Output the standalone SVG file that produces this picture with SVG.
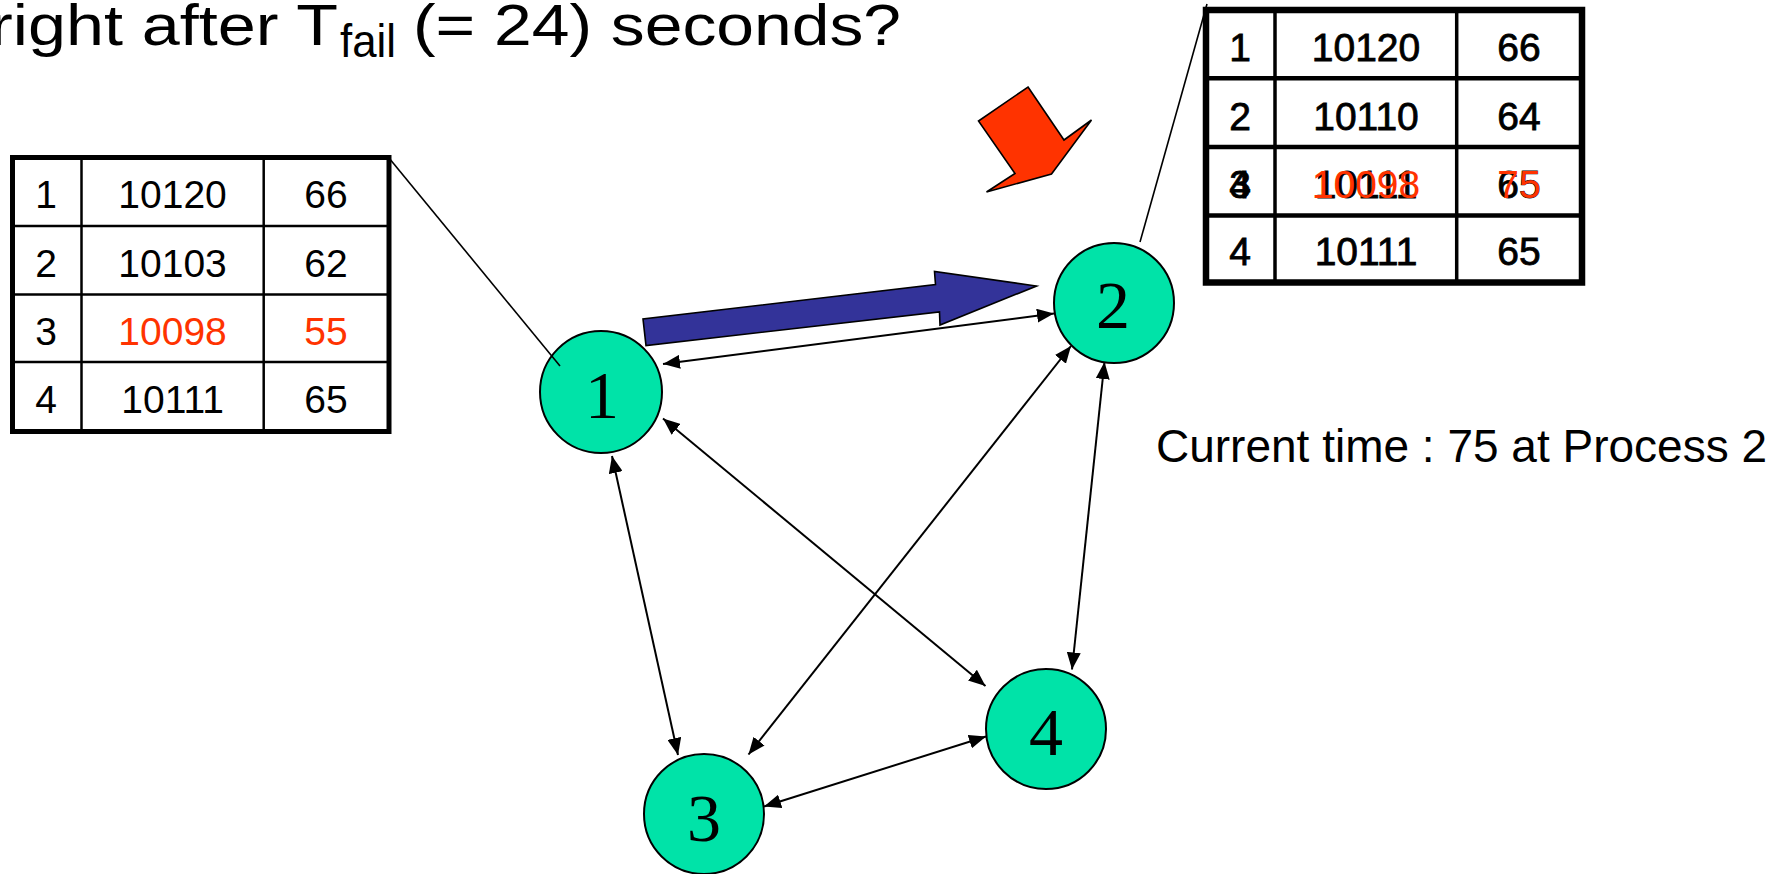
<svg xmlns="http://www.w3.org/2000/svg" width="1779" height="874" viewBox="0 0 1779 874">
<style>
  .t { font-family: "Liberation Sans", Arial, sans-serif; fill: #000; }
  .cell { font-family: "Liberation Sans", Arial, sans-serif; font-size: 39px; text-anchor: middle; fill: #000; }
  .bold { stroke: #000; stroke-width: 0.8; }
  .red { fill: #FF3300; stroke: none; }
  .node circle { fill: #00E3A8; stroke: #000; stroke-width: 2; }
  .node text { font-family: "Liberation Serif", "Times New Roman", serif; font-size: 68px; text-anchor: middle; fill: #000; }
  .edge { fill: none; stroke: #000; stroke-width: 2; marker-start: url(#ah); marker-end: url(#ah); }
  .callout { fill: none; stroke: #000; stroke-width: 1.6; }
</style>
<defs>
  <marker id="ah" viewBox="0 0 17 14" refX="17" refY="7" markerWidth="17" markerHeight="14" markerUnits="userSpaceOnUse" orient="auto-start-reverse">
    <path d="M0,0 L17,7 L0,14 z" fill="#000"/>
  </marker>
</defs>
<rect width="1779" height="874" fill="#fff"/>

<g id="title">
  <text class="t" x="-10" y="45" font-size="58" textLength="348" lengthAdjust="spacingAndGlyphs">right after T</text>
  <text class="t" x="340" y="57" font-size="46" textLength="56" lengthAdjust="spacingAndGlyphs">fail</text>
  <text class="t" x="413" y="45" font-size="58" textLength="488" lengthAdjust="spacingAndGlyphs">(= 24) seconds?</text>
</g>

<g id="table-left">
  <rect x="12.5" y="157.5" width="376.5" height="274" fill="#fff" stroke="#000" stroke-width="5"/>
  <g stroke="#000" stroke-width="2.5">
    <line x1="81.5" y1="157.5" x2="81.5" y2="431.5"/>
    <line x1="263.7" y1="157.5" x2="263.7" y2="431.5"/>
    <line x1="12.5" y1="226" x2="389" y2="226"/>
    <line x1="12.5" y1="294.5" x2="389" y2="294.5"/>
    <line x1="12.5" y1="362" x2="389" y2="362"/>
  </g>
  <text class="cell" x="46" y="208">1</text>
  <text class="cell" x="172.6" y="208">10120</text>
  <text class="cell" x="326" y="208">66</text>
  <text class="cell" x="46" y="277">2</text>
  <text class="cell" x="172.6" y="277">10103</text>
  <text class="cell" x="326" y="277">62</text>
  <text class="cell" x="46" y="345">3</text>
  <text class="cell red" x="172.6" y="345">10098</text>
  <text class="cell red" x="326" y="345">55</text>
  <text class="cell" x="46" y="413">4</text>
  <text class="cell" x="172.6" y="413">10111</text>
  <text class="cell" x="326" y="413">65</text>
</g>

<g id="table-right">
  <rect x="1206" y="10" width="376" height="272.5" fill="#fff" stroke="#000" stroke-width="6.5"/>
  <g stroke="#000">
    <line x1="1275" y1="10" x2="1275" y2="282.5" stroke-width="3.5"/>
    <line x1="1456.7" y1="10" x2="1456.7" y2="282.5" stroke-width="3.5"/>
    <line x1="1206" y1="78.3" x2="1582" y2="78.3" stroke-width="4.5"/>
    <line x1="1206" y1="147" x2="1582" y2="147" stroke-width="4.5"/>
    <line x1="1206" y1="215.5" x2="1582" y2="215.5" stroke-width="4.5"/>
  </g>
  <text class="cell bold" x="1240" y="61">1</text>
  <text class="cell bold" x="1366" y="61">10120</text>
  <text class="cell bold" x="1519" y="61">66</text>
  <text class="cell bold" x="1240" y="129.5">2</text>
  <text class="cell bold" x="1366" y="129.5">10110</text>
  <text class="cell bold" x="1519" y="129.5">64</text>
  <text class="cell bold" x="1240" y="198">4</text>
  <text class="cell bold" x="1240" y="198">3</text>
  <text class="cell bold" x="1366" y="198">10111</text>
  <text class="cell bold" x="1519" y="198">65</text>
  <text class="cell red" x="1366" y="198">10098</text>
  <text class="cell red" x="1519" y="198">75</text>
  <text class="cell bold" x="1240" y="265">4</text>
  <text class="cell bold" x="1366" y="265">10111</text>
  <text class="cell bold" x="1519" y="265">65</text>
</g>

<g id="current-time">
  <text class="t" x="1156" y="462" font-size="46">Current time : 75 at Process 2</text>
</g>

<g id="big-arrows">
  <polygon points="643,319 646,345.5 939.5,312 940,325 1036.5,286 934.5,271.5 935.5,284.5" fill="#333399" stroke="#000" stroke-width="1.6" stroke-linejoin="miter"/>
  <polygon points="1028,87 1064,140 1091.5,120 1051.5,174 986.5,192 1015,173.5 978.5,121" fill="#FF3300" stroke="#000" stroke-width="1.6"/>
</g>

<g id="node-1" class="node">
  <circle cx="601" cy="392" r="61"/>
  <text x="602" y="418">1</text>
</g>
<g id="node-2" class="node">
  <circle cx="1114" cy="303" r="60"/>
  <text x="1113" y="328">2</text>
</g>
<g id="node-3" class="node">
  <circle cx="704" cy="814" r="60"/>
  <text x="704" y="841">3</text>
</g>
<g id="node-4" class="node">
  <circle cx="1046" cy="729" r="60"/>
  <text x="1046" y="755">4</text>
</g>

<g id="connectors">
  <path class="edge" d="M663,364 L1054,313.5"/>
  <path class="edge" d="M612,456 L678,755"/>
  <path class="edge" d="M663,418.5 L985.5,686"/>
  <path class="edge" d="M1071,346 L748.5,754.5"/>
  <path class="edge" d="M1104.5,362 L1072,669.5"/>
  <path class="edge" d="M764,806.5 L986,736.5"/>
  <line class="callout" x1="389" y1="158" x2="560" y2="366"/>
  <line class="callout" x1="1207" y1="4" x2="1140" y2="242"/>
</g>
</svg>
